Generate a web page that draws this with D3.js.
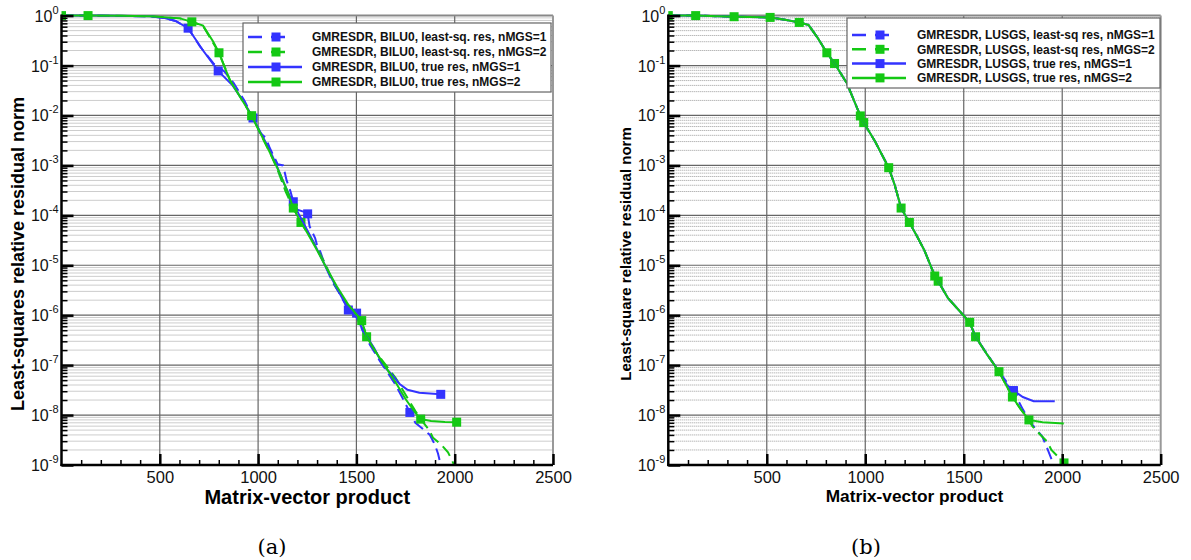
<!DOCTYPE html>
<html><head><meta charset="utf-8">
<script src="https://cdn.jsdelivr.net/npm/d3@7"></script>
<style>body{margin:0;background:#fff;} text{font-family:"Liberation Sans",Arial,sans-serif;}</style>
</head><body>
<script>
// ---------- DATA ----------
const xTickValues = [500, 1000, 1500, 2000, 2500];
const yDecades = [0, -1, -2, -3, -4, -5, -6, -7, -8, -9];

const legendA = ["GMRESDR, BILU0, least-sq. res, nMGS=1", "GMRESDR, BILU0, least-sq. res, nMGS=2",
                 "GMRESDR, BILU0, true res, nMGS=1", "GMRESDR, BILU0, true res, nMGS=2"];
const legendB = ["GMRESDR, LUSGS, least-sq res, nMGS=1", "GMRESDR, LUSGS, least-sq res, nMGS=2",
                 "GMRESDR, LUSGS, true res, nMGS=1", "GMRESDR, LUSGS, true res, nMGS=2"];

// Panel (a)
const aLsq1 = [[0,1],[100,1],[300,0.98],[450,0.97],[520,0.9],[580,0.78],[644,0.56],[705,0.24],[773,0.11],[830,0.075],[875,0.045],[930,0.02],[974,0.0089],[1010,0.0045],[1040,0.0035],[1060,0.0022],[1100,0.00105],[1127,0.001],[1145,0.0005],[1165,0.0003],[1179,0.000187],[1200,0.00013],[1240,0.000115],[1252,0.000107],[1262,0.00006],[1290,0.000035],[1300,0.000025],[1310,0.000022],[1318,0.000018],[1340,0.00001],[1380,0.0000045],[1420,0.0000025],[1459,0.00000127],[1501,0.0000011],[1530,0.0000005],[1570,0.00000025],[1620,0.00000012],[1660,0.00000007],[1700,0.00000004],[1740,0.00000002],[1772,1.13e-8],[1800,7e-9],[1823,5.9e-9],[1874,4e-9],[1900,2.5e-9],[1915,1.7e-9],[1935,8e-10]];
const aLsq1M = [[1252,0.000107],[1501,0.0000011],[1772,1.13e-8]];

const aLsq2 = [[0,1],[135,1],[300,0.99],[450,0.97],[603,0.88],[663,0.75],[720,0.62],[772,0.28],[801,0.18],[857,0.051],[920,0.02],[967,0.0099],[1010,0.0045],[1060,0.0018],[1100,0.0008],[1140,0.0003],[1179,0.00014],[1218,0.000072],[1260,0.00004],[1300,0.000022],[1340,0.000011],[1390,0.000004],[1430,0.0000022],[1470,0.0000013],[1527,7.8e-7],[1552,3.7e-7],[1600,1.8e-7],[1650,1e-7],[1700,5.5e-8],[1760,2.2e-8],[1800,1.2e-8],[1827,8.3e-9],[1870,5e-9],[1890,3.5e-9],[1930,2.6e-9],[1966,1.8e-9],[2000,9.5e-10]];
const aLsq2M = [[1218,0.000072],[1552,3.7e-7]];

const aTrue1 = [[0,1],[200,1],[450,0.97],[520,0.9],[580,0.78],[644,0.56],[720,0.2],[797,0.078],[870,0.04],[930,0.018],[970,0.0095],[1020,0.004],[1060,0.002],[1094,0.001],[1130,0.00045],[1160,0.00025],[1179,0.00018],[1210,0.0001],[1240,0.00006],[1280,0.00003],[1340,0.00001],[1400,0.0000035],[1459,0.0000013],[1501,0.0000009],[1540,0.00000045],[1590,0.00000022],[1635,0.0000001],[1680,6.5e-8],[1720,4.2e-8],[1760,3.2e-8],[1820,2.8e-8],[1929,2.6e-8]];
const aTrue1M = [[644,0.56],[797,0.078],[974,0.0089],[1179,0.000187],[1459,0.00000127],[1929,2.6e-8]];

const aTrue2 = [[0,1],[135,1],[300,0.99],[450,0.97],[603,0.88],[663,0.75],[720,0.63],[772,0.3],[801,0.18],[857,0.05],[920,0.02],[967,0.0099],[1020,0.0038],[1070,0.0015],[1110,0.0007],[1150,0.0003],[1179,0.00014],[1218,0.000072],[1250,0.000045],[1300,0.00002],[1350,0.0000085],[1400,0.0000038],[1460,0.0000016],[1527,7.8e-7],[1552,3.7e-7],[1600,1.8e-7],[1650,9e-8],[1700,4.5e-8],[1750,2.1e-8],[1800,1.1e-8],[1827,8.3e-9],[1880,7.6e-9],[1950,7.3e-9],[2010,7.2e-9]];
const aTrue2M = [[0,1],[135,1],[663,0.75],[801,0.18],[967,0.0099],[1179,0.00014],[1527,7.8e-7],[1827,8.3e-9],[2010,7.2e-9]];

// Panel (b)
const bLsq1 = [[0,1],[139,1],[334,0.95],[517,0.92],[600,0.82],[665,0.73],[712,0.65],[760,0.35],[805,0.18],[844,0.11],[907,0.044],[975,0.0098],[992,0.0072],[1050,0.003],[1119,0.0009],[1150,0.0004],[1182,0.00014],[1224,0.000072],[1260,0.00004],[1300,0.00002],[1353,0.0000061],[1370,0.0000048],[1420,0.0000022],[1480,0.0000012],[1530,7.2e-7],[1560,3.7e-7],[1627,1.5e-7],[1679,7.4e-8],[1752,3e-8],[1800,1.3e-8],[1840,7e-9],[1899,3.7e-9],[1925,2.1e-9],[1962,9e-10]];
const bLsq1M = [[1752,3.0e-8]];

const bLsq2 = [[0,1],[139,1],[334,0.95],[517,0.92],[600,0.82],[665,0.73],[712,0.65],[760,0.35],[805,0.18],[844,0.11],[907,0.044],[975,0.0098],[992,0.0072],[1050,0.003],[1119,0.0009],[1150,0.0004],[1182,0.00014],[1224,0.000072],[1260,0.00004],[1300,0.00002],[1353,0.0000061],[1370,0.0000048],[1420,0.0000022],[1480,0.0000012],[1530,7.2e-7],[1560,3.7e-7],[1620,1.6e-7],[1679,7.4e-8],[1747,2.3e-8],[1790,1.3e-8],[1831,8e-9],[1848,6e-9],[1890,4e-9],[1925,2.9e-9],[1945,2e-9],[2009,1.1e-9]];
const bLsq2M = [[844,0.11],[992,0.0072],[1182,0.00014],[1370,0.0000048],[1560,3.7e-7],[2009,1.1e-9]];

const bTrue1 = [[0,1],[139,1],[334,0.95],[517,0.92],[600,0.82],[665,0.73],[712,0.65],[760,0.35],[805,0.18],[844,0.11],[907,0.044],[975,0.0098],[992,0.0072],[1050,0.003],[1119,0.0009],[1150,0.0004],[1182,0.00014],[1224,0.000072],[1260,0.00004],[1300,0.00002],[1353,0.0000061],[1370,0.0000048],[1420,0.0000022],[1480,0.0000012],[1530,7.2e-7],[1560,3.7e-7],[1620,1.6e-7],[1679,7.4e-8],[1720,4e-8],[1752,3.1e-8],[1800,2.3e-8],[1855,1.9e-8],[1962,1.9e-8]];
const bTrue1M = [[1752,3.1e-8]];

const bTrue2 = [[0,1],[139,1],[334,0.95],[517,0.92],[600,0.82],[665,0.73],[712,0.65],[760,0.35],[805,0.18],[844,0.11],[907,0.044],[975,0.0098],[992,0.0072],[1050,0.003],[1119,0.0009],[1150,0.0004],[1182,0.00014],[1224,0.000072],[1260,0.00004],[1300,0.00002],[1353,0.0000061],[1370,0.0000048],[1420,0.0000022],[1480,0.0000012],[1530,7.2e-7],[1560,3.7e-7],[1620,1.6e-7],[1679,7.4e-8],[1747,2.3e-8],[1790,1.3e-8],[1831,8e-9],[1900,7.2e-9],[2008,6.8e-9]];
const bTrue2M = [[0,1],[139,1],[334,0.95],[517,0.92],[665,0.73],[805,0.18],[975,0.0098],[1119,0.0009],[1224,0.000072],[1353,0.0000061],[1530,7.2e-7],[1679,7.4e-8],[1747,2.3e-8],[1831,8e-9]];

// ---------- STYLE ----------
const BLUE = "#3333ff", GREEN = "#14c814";
const styles = [
  {color: BLUE, dash: "12,6"},
  {color: GREEN, dash: "12,6"},
  {color: BLUE, dash: null},
  {color: GREEN, dash: null}
];

const svg = d3.select("body").append("svg").attr("width", 1191).attr("height", 560);

function panel(cfg) {
  const g = svg.append("g");
  const x = d3.scaleLinear().domain([0, 2500]).range([cfg.x0, cfg.x1]);
  const y = d3.scaleLog().domain([1e-9, 1]).range([465, 15.6]);
  const [X0, X1] = x.range();
  const [Y0, Y1] = y.range();

  const clipId = "clip" + cfg.id;
  svg.append("clipPath").attr("id", clipId).append("rect")
    .attr("x", X0).attr("y", Y1 - 8).attr("width", X1 - X0 + 6).attr("height", Y0 - Y1 + 8);

  // minor grid (dotted)
  const minorVals = [];
  for (let e = -9; e < 0; e++) for (let k = 2; k <= 9; k++) minorVals.push(k * Math.pow(10, e));
  g.append("g").selectAll("line").data(minorVals).join("line")
    .attr("x1", X0).attr("x2", X1).attr("y1", d => y(d)).attr("y2", d => y(d))
    .attr("stroke", "#9a9a9a").attr("stroke-width", 1).attr("stroke-dasharray", "1,1");
  // major grid
  const majorVals = yDecades.map(e => Math.pow(10, e)).filter(v => v > 1e-9 && v < 1);
  g.append("g").selectAll("line").data(majorVals).join("line")
    .attr("x1", X0).attr("x2", X1).attr("y1", d => y(d)).attr("y2", d => y(d))
    .attr("stroke", "#666").attr("stroke-width", 1.2);
  g.append("g").selectAll("line").data(xTickValues.filter(v => v < 2500)).join("line")
    .attr("x1", d => x(d)).attr("x2", d => x(d)).attr("y1", Y0).attr("y2", Y1)
    .attr("stroke", "#666").attr("stroke-width", 1.2);
  // frame top/right
  g.append("line").attr("x1", X0).attr("x2", X1).attr("y1", Y1).attr("y2", Y1).attr("stroke", "#888").attr("stroke-width", 2);
  g.append("line").attr("x1", X1).attr("x2", X1).attr("y1", Y1).attr("y2", Y0).attr("stroke", "#999").attr("stroke-width", 2);

  // series
  const line = d3.line().x(d => x(d[0])).y(d => y(d[1]));
  const sg = g.append("g").attr("clip-path", `url(#${clipId})`);
  cfg.series.forEach((s, i) => {
    const st = styles[i];
    sg.append("path").datum(s.data).attr("d", line).attr("fill", "none")
      .attr("stroke", st.color).attr("stroke-width", 2)
      .attr("stroke-dasharray", st.dash);
    sg.append("g").selectAll("rect").data(s.markers).join("rect")
      .attr("x", d => x(d[0]) - 4.5).attr("y", d => y(d[1]) - 4.5)
      .attr("width", 9).attr("height", 9).attr("fill", st.color);
  });

  // axes
  const xMinor = d3.range(100, 2500, 100).filter(v => v % 500 !== 0);
  g.append("g").attr("transform", `translate(0,${Y0})`)
    .call(d3.axisBottom(x).tickValues(xMinor).tickSizeInner(-5).tickSizeOuter(0).tickFormat(""))
    .call(a => a.select(".domain").remove())
    .call(a => a.selectAll("line").attr("stroke", "#000").attr("stroke-width", 1.5));
  g.append("g").attr("transform", `translate(0,${Y0})`)
    .call(d3.axisBottom(x).tickValues(xTickValues).tickSizeInner(-11).tickSizeOuter(0).tickPadding(6).tickFormat(d3.format("d")))
    .call(a => a.select(".domain").remove())
    .call(a => a.selectAll("line").attr("stroke", "#000").attr("stroke-width", 2.5))
    .call(a => a.selectAll("text").attr("font-size", 16.5).attr("fill", "#111")
      .style("font-family", "'Liberation Sans', Arial, sans-serif"));
  g.append("g").attr("transform", `translate(${X0},0)`)
    .call(d3.axisLeft(y).tickValues(minorVals).tickSizeInner(-6).tickSizeOuter(0).tickFormat(""))
    .call(a => a.select(".domain").remove())
    .call(a => a.selectAll("line").attr("stroke", "#000").attr("stroke-width", 1.5));
  g.append("g").attr("transform", `translate(${X0},0)`)
    .call(d3.axisLeft(y).tickValues(yDecades.map(e => Math.pow(10, e))).tickSizeInner(-12).tickSizeOuter(0).tickFormat(""))
    .call(a => a.select(".domain").remove())
    .call(a => a.selectAll("line").attr("stroke", "#000").attr("stroke-width", 2.5));
  // axis lines
  g.append("line").attr("x1", X0).attr("x2", X0).attr("y1", Y1 - 1).attr("y2", Y0 + 1).attr("stroke", "#000").attr("stroke-width", 2.5);
  g.append("line").attr("x1", X0 - 1).attr("x2", X1).attr("y1", Y0).attr("y2", Y0).attr("stroke", "#000").attr("stroke-width", 2.5);

  // y tick labels with superscripts
  const yl = g.append("g");
  yDecades.forEach(e => {
    const t = yl.append("text").attr("x", X0 - 3).attr("y", y(Math.pow(10, e)) + 6)
      .attr("text-anchor", "end").attr("font-size", 16).attr("fill", "#111");
    t.append("tspan").text("10");
    t.append("tspan").attr("dy", -8).attr("font-size", 11).text(String(e));
  });

  // axis titles
  g.append("text").attr("x", (X0 + X1) / 2).attr("y", cfg.xTitleY)
    .attr("text-anchor", "middle").attr("font-weight", "bold").attr("font-size", cfg.xTitleSize)
    .text("Matrix-vector product");
  g.append("text").attr("transform", `translate(${cfg.yTitleX},${cfg.yTitleCY}) rotate(-90)`)
    .attr("text-anchor", "middle").attr("font-weight", "bold").attr("font-size", cfg.yTitleSize)
    .text(cfg.yTitle);
  // caption
  g.append("text").attr("x", cfg.capX).attr("y", 554).attr("text-anchor", "middle")
    .attr("font-size", 21).style("font-family", "'DejaVu Serif', 'Liberation Serif', serif").text(cfg.caption);

  // legend
  const L = cfg.legend;
  const lg = g.append("g");
  lg.append("rect").attr("x", L.x).attr("y", L.y).attr("width", L.w).attr("height", L.h)
    .attr("fill", "#fff").attr("stroke", "#666").attr("stroke-width", 1.2);
  cfg.labels.forEach((lab, i) => {
    const st = styles[i];
    const ry = L.y + L.first + i * L.step;
    const lx0 = L.x + 5;
    lg.append("line").attr("x1", lx0).attr("x2", st.dash ? lx0 + 43 : lx0 + 54)
      .attr("y1", ry).attr("y2", ry).attr("stroke", st.color).attr("stroke-width", 2.5)
      .attr("stroke-dasharray", st.dash ? "14,9" : null);
    lg.append("rect").attr("x", lx0 + 28 - 4.5).attr("y", ry - 4.5).attr("width", 9).attr("height", 9).attr("fill", st.color);
    lg.append("text").attr("x", L.x + L.textDx).attr("y", ry + 4.2).attr("font-weight", "bold")
      .attr("font-size", 12).attr("fill", "#111").text(lab);
  });
}

panel({
  id: "a", x0: 61.5, x1: 553,
  series: [
    {data: aLsq1, markers: aLsq1M},
    {data: aLsq2, markers: aLsq2M},
    {data: aTrue1, markers: aTrue1M},
    {data: aTrue2, markers: aTrue2M}
  ],
  labels: legendA,
  legend: {x: 243, y: 23, w: 308, h: 69, first: 14, step: 15, textDx: 69},
  xTitleY: 504, xTitleSize: 20,
  yTitle: "Least-squares relative residual norm", yTitleX: 24, yTitleCY: 254, yTitleSize: 18,
  caption: "(a)", capX: 272
});

panel({
  id: "b", x0: 668.3, x1: 1160.7,
  series: [
    {data: bLsq1, markers: bLsq1M},
    {data: bLsq2, markers: bLsq2M},
    {data: bTrue1, markers: bTrue1M},
    {data: bTrue2, markers: bTrue2M}
  ],
  labels: legendB,
  legend: {x: 847, y: 18, w: 313, h: 70, first: 17, step: 14.3, textDx: 70},
  xTitleY: 502, xTitleSize: 17.3,
  yTitle: "Least-square relative residual norm", yTitleX: 631, yTitleCY: 254, yTitleSize: 15,
  caption: "(b)", capX: 866
});
</script>
</body></html>
